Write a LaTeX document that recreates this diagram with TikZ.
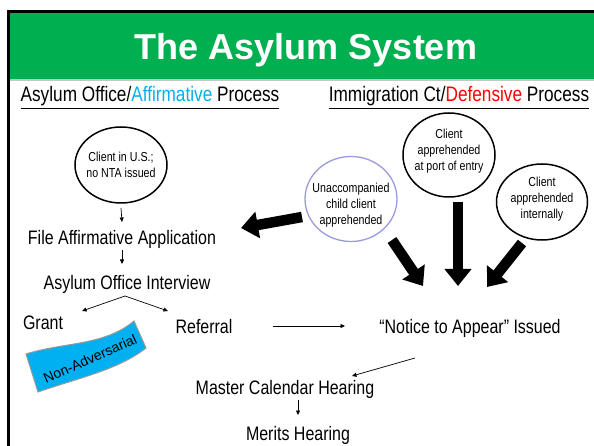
\documentclass[tikz,border=0pt]{standalone}
\usepackage{fontspec}
\setmainfont{Liberation Sans}
\newfontfamily\narrow[FakeStretch=0.82]{Liberation Sans}
\usetikzlibrary{arrows.meta,shapes.geometric}
\definecolor{hdrgreen}{HTML}{00B050}
\definecolor{affblue}{HTML}{00B0F0}
\definecolor{lav}{HTML}{9A9AE0}
\begin{document}
\begin{tikzpicture}[x=1pt,y=-1pt,
  lbl/.style={anchor=base,inner sep=0pt,font=\narrow\fontsize{19.5}{22}\selectfont},
  hdg/.style={anchor=base,inner sep=0pt,font=\narrow\fontsize{21}{24}\selectfont},
  circ/.style={ellipse,draw,line width=1.5pt,inner sep=0pt},
  ctext/.style={inner sep=0pt,align=center,font=\narrow\fontsize{13}{15.8}\selectfont},
  sarrow/.style={line width=0.7pt,-{Triangle[length=4.5pt,width=4pt]}},
  bigarrow/.style={line width=10.5pt,-{Triangle[width=26pt,length=17pt]}}]
\useasboundingbox (0,0) rectangle (594,446);
\fill[white] (0,0) rectangle (594,446);
% frame and header
\fill[hdrgreen] (9,12) rectangle (600,79);
\draw[gray!45,line width=1.2pt] (9,80) -- (600,80);
\draw[line width=3pt] (8.5,460) -- (8.5,11.5) -- (600,11.5);
\node[anchor=base,inner sep=0pt,text=white,font=\bfseries\fontsize{36}{40}\selectfont] (title) at (306,60) {The Asylum System};
% headings
\node[hdg] (hl) at (150,102) {\underline{Asylum Office/\textcolor{affblue}{Affirmative} Process}};
\node[hdg] (hr) at (459,102) {\underline{Immigration Ct/\textcolor{red}{Defensive} Process}};
% left column
\node[circ,minimum width=92pt,minimum height=76pt] (cus) at (121,165) {};
\node[ctext] at (cus) {Client in U.S.;\\no NTA issued};
\node[lbl] (file) at (122,245) {File Affirmative Application};
\node[lbl] (interview) at (127,290) {Asylum Office Interview};
\node[lbl] (grant) at (43,329) {Grant};
\node[lbl] (referral) at (204,333) {Referral};
\node[lbl] (notice) at (470,333) {“Notice to Appear” Issued};
\node[lbl] (master) at (285,394) {Master Calendar Hearing};
\node[lbl] (merits) at (298,440) {Merits Hearing};
% small arrows
\draw[sarrow] (cus.south |- 0,208) coordinate (a1) -- (122,222) coordinate (a2);
\draw[sarrow] (122,250) coordinate (b1) -- (122,264) coordinate (b2);
\coordinate (apex) at (125,296);
\draw[sarrow] (apex) -- (82,311) coordinate (g1);
\draw[sarrow] (apex) -- (168,311) coordinate (r1);
\draw[sarrow] (273,326) coordinate (n0) -- (345,326) coordinate (n1);
\draw[sarrow] (415,358) coordinate (m0) -- (352,376) coordinate (m1);
\draw[sarrow] (298,400) coordinate (h0) -- (298,415) coordinate (h1);
% banner
\draw[fill=affblue,draw=gray!80,line width=1pt] (26,354) .. controls (64,342) and (104,346) .. (134,321)
  -- (146,348) .. controls (118,370) and (78,378) .. (38,392) -- cycle;
\node[inner sep=0pt,rotate=24,font=\fontsize{14}{16}\selectfont] (nonadv) at (90,359) {Non-Adversarial};
% right circles
\node[circ,draw=lav,line width=1.3pt,minimum width=92pt,minimum height=85pt] (unacc) at (351,199) {};
\node[ctext] at ([yshift=-6]unacc) {Unaccompanied\\child client\\apprehended};
\node[circ,minimum width=92pt,minimum height=84pt] (port) at (449,155) {};
\node[ctext] at ([yshift=4]port) {Client\\apprehended\\at port of entry};
\node[circ,minimum width=91pt,minimum height=76pt] (internal) at (542,202) {};
\node[ctext] at ([yshift=3]internal) {Client\\apprehended\\internally};
% big arrows
\coordinate (t1) at (302,217); \coordinate (e1) at (241,228);
\draw[bigarrow] (t1) -- (e1);
\coordinate (t2) at (392,240); \coordinate (e2) at (423,286);
\draw[bigarrow] (t2) -- (e2);
\coordinate (t3) at (458,202); \coordinate (e3) at (458,286);
\draw[bigarrow] (t3) -- (e3);
\coordinate (t4) at (522,243); \coordinate (e4) at (487,287);
\draw[bigarrow] (t4) -- (e4);
\end{tikzpicture}
\end{document}
